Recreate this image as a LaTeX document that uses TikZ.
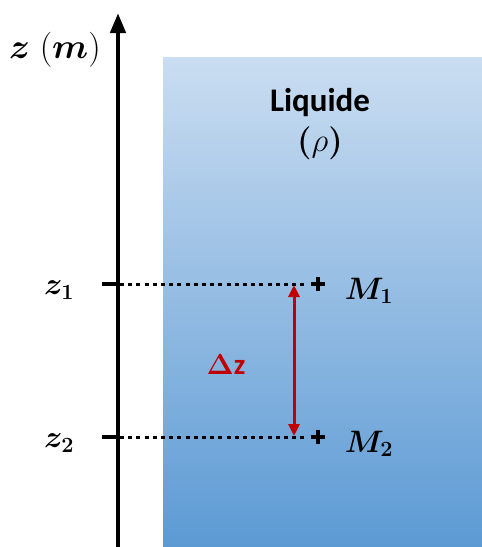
\RequirePackage{fix-cm}
\documentclass[tikz,border=0pt]{standalone}
\usepackage{amsmath}
\usepackage{bm}
\usepackage{fontspec}
\newfontfamily\calibrifont{Carlito}
\usetikzlibrary{arrows.meta}
\definecolor{liqtop}{HTML}{CADDF1}
\definecolor{liqbot}{HTML}{5C9AD4}
\definecolor{dzred}{HTML}{C00000}
\begin{document}
\begin{tikzpicture}[x=1pt,y=-1pt,
  mathlab/.style={inner sep=0pt,font=\fontsize{31}{36}\selectfont},
  dotline/.style={line width=3pt,dash pattern=on 4pt off 4.2pt},
  tickmark/.style={line width=4pt},
  plusmark/.style={line width=3.5pt}]
\useasboundingbox (0,0) rectangle (482,547);
\shade[top color=liqtop,bottom color=liqbot] (163,57) rectangle (482,547);
% axis
\coordinate (abot) at (118,547);
\coordinate (atop) at (118,13);
\draw[line width=4.5pt,-{Triangle[length=20pt,width=15pt]}] (abot) -- (atop);
\node[inner sep=0pt,font=\fontsize{35}{40}\selectfont] (zm) at (55,50) {$\bm{z}\;(\bm{m})$};
% levels
\coordinate (t1a) at (102,284); \coordinate (t1b) at (120,284);
\coordinate (t2a) at (102,437); \coordinate (t2b) at (120,437);
\draw[tickmark] (t1a) -- (t1b);
\draw[tickmark] (t2a) -- (t2b);
\coordinate (d1) at (306,284); \coordinate (d2) at (306,437);
\draw[dotline] (t1b) -- (d1);
\draw[dotline] (t2b) -- (d2);
\node[mathlab] (z1) at (59,290) {$\bm{z_1}$};
\node[mathlab] (z2) at (59,443) {$\bm{z_2}$};
% points
\node[inner sep=0pt,minimum size=14pt] (p1) at (318,284) {};
\node[inner sep=0pt,minimum size=14pt] (p2) at (318,437) {};
\draw[plusmark] (p1.west) -- (p1.east) (p1.north) -- (p1.south);
\draw[plusmark] (p2.west) -- (p2.east) (p2.north) -- (p2.south);
\node[mathlab] (m1) at (369,291) {$\bm{M_1}$};
\node[mathlab] (m2) at (369,444) {$\bm{M_2}$};
% delta z arrow
\coordinate (r1) at (294,285);
\coordinate (r2) at (294,436);
\draw[dzred,line width=3pt,{Triangle[length=12pt,width=11pt]}-{Triangle[length=12pt,width=11pt]}] (r1) -- (r2);
\node[inner sep=0pt,text=dzred,font=\calibrifont\bfseries\fontsize{29}{34}\selectfont] (dz) at (226,365) {$\bm{\Delta}$z};
% liquid label
\node[inner sep=0pt,align=center,font=\calibrifont\bfseries\fontsize{33}{40}\selectfont] (liq) at (320,124) {Liquide\\$\bm{(}\rho\bm{)}$};
\end{tikzpicture}
\end{document}
